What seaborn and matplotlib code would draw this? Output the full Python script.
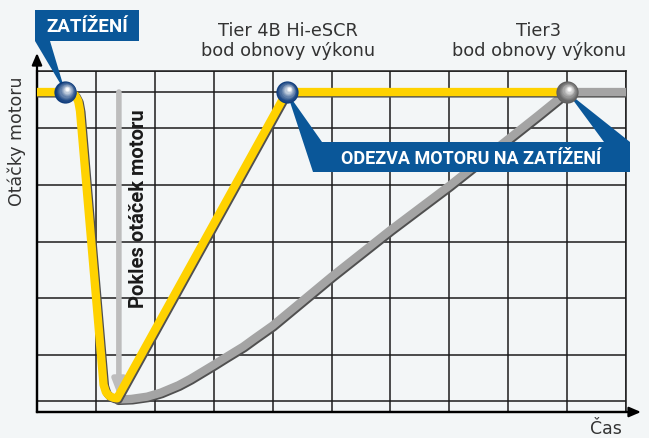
import matplotlib
matplotlib.use("Agg")
import matplotlib.pyplot as plt
import matplotlib.patheffects as pe
from matplotlib import font_manager
from matplotlib.patches import Polygon, Rectangle
from matplotlib.transforms import ScaledTranslation
import numpy as np
import pandas as pd
import seaborn as sns

# cas (x) a otacky motoru (y)
yellow_x = [0.0, 0.48, 0.58, 0.65, 0.70, 0.73, 1.13, 1.17, 1.23, 1.30, 1.36, 4.24, 9.0]
yellow_y = [5.63, 5.63, 5.62, 5.57, 5.47, 5.30, 0.48, 0.35, 0.28, 0.25, 0.24, 5.63, 5.63]
gray_x = [1.36, 1.6, 1.87, 2.1, 2.4, 2.6, 3.0, 3.2, 3.5, 3.7, 4.0, 4.5, 5.0, 5.5, 6.0,
          6.5, 7.0, 7.5, 8.0, 8.5, 9.0, 10.0]
gray_y = [0.22, 0.23, 0.27, 0.34, 0.47, 0.58, 0.83, 0.96, 1.15, 1.30, 1.52, 1.95, 2.38,
          2.79, 3.2, 3.59, 3.98, 4.39, 4.8, 5.21, 5.63, 5.63]

grid_x = [0, 1, 2, 3, 4, 5, 6, 7, 8, 9, 10]
grid_y = [0.2, 1, 2, 3, 4, 5, 5.63, 6]

blue_pts_x = [0.48, 4.24]
blue_pts_y = [5.63, 5.63]
gray_pts_x = [9.0]
gray_pts_y = [5.63]

drop_x = 1.39
drop_top = 5.63
drop_bottom = 0.26

label_load = "ZATÍŽENÍ"
label_resp = "ODEZVA MOTORU NA ZATÍŽENÍ"
label_tier4 = "Tier 4B Hi-eSCR\nbod obnovy výkonu"
label_tier3 = "Tier3\nbod obnovy výkonu"
label_drop = "Pokles otáček motoru"
label_y = "Otáčky motoru"
label_x = "Čas"

W, H = 649, 439
BG = "#f3f6f7"
BLUE = "#0a5799"
YELLOW = "#ffd200"
GRAY = "#a4a4a4"


def px(x, y):
    # pixel od leveho horniho rohu -> zlomek obrazku
    return x / W, 1 - y / H


def mix(c1, c2, t):
    a = np.array(matplotlib.colors.to_rgb(c1))
    b = np.array(matplotlib.colors.to_rgb(c2))
    return tuple(a + (b - a) * t)


sns.set_style("white")
names = {f.name for f in font_manager.fontManager.ttflist}
narrow = "Liberation Sans Narrow" if "Liberation Sans Narrow" in names else "Roboto"
plt.rcParams["font.family"] = ["DejaVu Sans"]

fig = plt.figure(figsize=(W / 100, H / 100), dpi=100, facecolor=BG)
ax = fig.add_axes([37 / W, 26 / H, 589 / W, 341 / H])
ax.set_facecolor(BG)

df_gray = pd.DataFrame({"cas": gray_x, "otacky": gray_y})
df_yellow = pd.DataFrame({"cas": yellow_x, "otacky": yellow_y})

shadow = [pe.SimpleLineShadow(offset=(1.0, -1.0), shadow_color="#505050", alpha=1), pe.Normal()]

# sipka poklesu otacek
ax.annotate("", xy=(drop_x, drop_bottom), xytext=(drop_x, drop_top),
            arrowprops=dict(arrowstyle="-|>,head_length=0.9,head_width=0.35",
                            color="#bdbdbd", lw=4, shrinkA=0, shrinkB=0), zorder=2)

sns.lineplot(data=df_gray, x="cas", y="otacky", sort=False, estimator=None, color=GRAY,
             lw=6, ax=ax, path_effects=shadow, solid_joinstyle="round", zorder=3)
sns.lineplot(data=df_yellow, x="cas", y="otacky", sort=False, estimator=None, color=YELLOW,
             lw=6, ax=ax, path_effects=shadow, solid_joinstyle="round", zorder=4)


def sphere(xs, ys, dark, light, z):
    n = 10
    for i in range(n):
        t = i / (n - 1)
        size = (16 * (1 - 0.85 * t)) ** 2
        off = ScaledTranslation(1.6 * t / 72, 2.2 * t / 72, fig.dpi_scale_trans)
        ax.scatter(xs, ys, s=size, color=[mix(dark, light, t ** 1.3)], linewidths=0,
                   transform=ax.transData + off, zorder=z, clip_on=False)


sphere(blue_pts_x, blue_pts_y, "#0e3c7c", "#ffffff", 7)
sphere(gray_pts_x, gray_pts_y, "#5e5e5e", "#ffffff", 7)

ax.set_xlim(0, 10)
ax.set_ylim(0, 6)
ax.set_xticks(grid_x)
ax.set_yticks(grid_y)
ax.grid(True, color="#1c1c1c", lw=1.1)
ax.tick_params(length=0, labelbottom=False, labelleft=False)
ax.set_xlabel("")
ax.set_ylabel("")
for s in ["top", "right"]:
    ax.spines[s].set_color("#1c1c1c")
    ax.spines[s].set_linewidth(1.1)
for s in ["left", "bottom"]:
    ax.spines[s].set_color("black")
    ax.spines[s].set_linewidth(1.6)

# sipky os
arr = dict(arrowstyle="-|>,head_length=0.7,head_width=0.3", color="black", lw=1.6,
           shrinkA=0, shrinkB=0)
ax.annotate("", xy=(1 + 15 / 589, 0), xytext=(0, 0), xycoords="axes fraction",
            arrowprops=arr, annotation_clip=False)
ax.annotate("", xy=(0, 1 + 18 / 341), xytext=(0, 0), xycoords="axes fraction",
            arrowprops=arr, annotation_clip=False)

# popisky
fig.text(*px(139, 209), label_drop, rotation=90, ha="center", va="center", fontsize=14.5,
         fontweight="bold", family=narrow, color="#1a1a1a", zorder=5)
fig.text(*px(17, 141), label_y, rotation=90, ha="center", va="center", fontsize=12.5,
         color="#333333")
fig.text(*px(606, 429), label_x, ha="center", va="center", fontsize=12.5, color="#333333")
fig.text(*px(288, 41), label_tier4, ha="center", va="center", fontsize=12.8,
         color="#333333", linespacing=1.12)
fig.text(*px(539, 41), label_tier3, ha="center", va="center", fontsize=12.8,
         color="#333333", linespacing=1.12)

# modre bubliny
to_fig = fig.transFigure.inverted()


def data_to_fig(x, y):
    return to_fig.transform(ax.transData.transform((x, y)))


def box(x0, y0, x1, y1, text, size):
    ax.add_patch(Rectangle(px(x0, y1), (x1 - x0) / W, (y1 - y0) / H, transform=fig.transFigure,
                           facecolor=BLUE, edgecolor="none", clip_on=False, zorder=6))
    ax.text(*px((x0 + x1) / 2, (y0 + y1) / 2 + 1), text, transform=fig.transFigure,
            ha="center", va="center", color="white", fontsize=size, fontweight="bold",
            family=narrow, zorder=8)


def pointer(tip, a, b):
    ax.add_patch(Polygon([tip, px(*a), px(*b)], closed=True, transform=fig.transFigure,
                         facecolor=BLUE, edgecolor="none", clip_on=False, zorder=6))


box(35, 11, 139, 42, label_load, 13.5)
pointer(data_to_fig(blue_pts_x[0], blue_pts_y[0]), (35, 42), (50, 42))
box(313, 143, 630, 173, label_resp, 13)
pointer(data_to_fig(blue_pts_x[1], blue_pts_y[1]), (313, 173), (322, 143))
pointer(data_to_fig(gray_pts_x[0], gray_pts_y[0]), (604, 143), (630, 143))

fig.savefig("out.png", dpi=100, facecolor=BG)
